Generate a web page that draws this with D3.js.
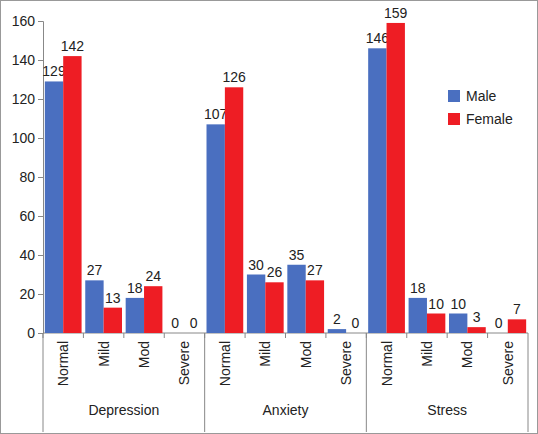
<!DOCTYPE html>
<html><head><meta charset="utf-8">
<script src="https://cdn.jsdelivr.net/npm/d3@7"></script>
<style>body{margin:0;background:#fff}text{font-family:Arial,"Liberation Sans",sans-serif;fill:#222}</style>
</head><body><svg id="c" width="538" height="434"></svg>
<script>
const groups = ["Depression", "Anxiety", "Stress"]
const levels = ["Normal", "Mild", "Mod", "Severe"]
const male = [129, 27, 18, 0, 107, 30, 35, 2, 146, 18, 10, 0]
const female = [142, 13, 24, 0, 126, 26, 27, 0, 159, 10, 3, 7]
const yTicks = [0, 20, 40, 60, 80, 100, 120, 140, 160]

const svg = d3.select("#c")
svg.append("rect").attr("x", 0.5).attr("y", 0.5).attr("width", 537).attr("height", 433)
  .attr("fill", "none").attr("stroke", "#999")

const mLeft = 43, mRight = 528, mTop = 21, base = 333
const y = d3.scaleLinear().domain([0, 160]).range([base, mTop])
const cats = d3.range(12)
const x = d3.scaleBand().domain(cats).range([mLeft, mRight])
const xs = d3.scaleBand().domain(["m", "f"]).range([0, x.bandwidth()]).paddingInner(0).paddingOuter(0.1)

//y axis
const ya = svg.append("g").attr("transform", `translate(${mLeft},0)`)
  .call(d3.axisLeft(y).tickValues(yTicks).tickSize(5))
ya.select(".domain").attr("stroke", "#888")
ya.selectAll("line").attr("stroke", "#888")
ya.selectAll("text").attr("font-size", 14).attr("fill", "#222")

//baseline
svg.append("line").attr("x1", mLeft).attr("x2", mRight).attr("y1", base).attr("y2", base).attr("stroke", "#888")

//bars
const series = [["m", male, "#4a6fc0"], ["f", female, "#ee1d24"]]
series.forEach(([k, vals, col]) => {
  const g = svg.append("g")
  g.selectAll("rect").data(vals).join("rect")
    .attr("x", (d, i) => x(i) + xs(k)).attr("width", xs.bandwidth())
    .attr("y", d => y(d)).attr("height", d => base - y(d)).attr("fill", col)
  g.selectAll("text").data(vals).join("text")
    .attr("x", (d, i) => x(i) + xs(k) + xs.bandwidth() / 2).attr("y", d => y(d) - 5)
    .attr("text-anchor", "middle").attr("font-size", 14).text(d => d)
})

//category ticks and labels
cats.forEach(i => {
  svg.append("line").attr("x1", x(i)).attr("x2", x(i)).attr("y1", base).attr("y2", base + 5).attr("stroke", "#888")
  svg.append("text").attr("transform", `translate(${x(i) + x.bandwidth() / 2 + 5},${base + 8}) rotate(-90)`)
    .attr("text-anchor", "end").attr("font-size", 14).text(levels[i % 4])
})
//group separators
d3.range(4).forEach(j => {
  const gx = j < 3 ? x(j * 4) : mRight
  svg.append("line").attr("x1", gx).attr("x2", gx).attr("y1", base).attr("y2", 432).attr("stroke", "#888")
})
groups.forEach((g, j) => {
  svg.append("text").attr("x", x(j * 4) + x.bandwidth() * 2).attr("y", 415)
    .attr("text-anchor", "middle").attr("font-size", 14).text(g)
})

//legend
const leg = svg.append("g").attr("transform", "translate(448,90)")
series.forEach(([k, v, col], i) => {
  leg.append("rect").attr("x", 0).attr("y", i * 23).attr("width", 12).attr("height", 12).attr("fill", col)
  leg.append("text").attr("x", 18).attr("y", i * 23 + 11).attr("font-size", 14).text(k == "m" ? "Male" : "Female")
})
</script></body></html>
